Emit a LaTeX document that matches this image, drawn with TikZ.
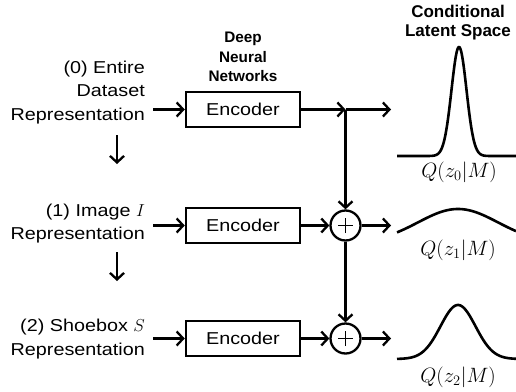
\documentclass[tikz,border=0pt]{standalone}
\usepackage{fontspec}
\setmainfont{Liberation Sans}
\newfontfamily\labfont[FakeStretch=1.15]{Liberation Sans}
\usetikzlibrary{arrows.meta}
\begin{document}
\begin{tikzpicture}[x=1pt,y=-1pt,
  line width=2.3pt,
  >={Straight Barb[length=6.5pt,width=14pt]},
  lab/.style={anchor=east,align=right,inner sep=0pt,font=\labfont\fontsize{17.2}{23.3}\selectfont},
  encbox/.style={draw,line width=2.5pt,minimum width=114pt,minimum height=35pt,inner sep=0pt,font=\labfont\fontsize{17.2}{21}\selectfont},
  plus/.style={draw,circle,line width=2.3pt,minimum size=30pt,inner sep=0pt,
    path picture={\draw[line width=1.6pt]
      ([xshift=-7.5pt]path picture bounding box.center) -- ([xshift=7.5pt]path picture bounding box.center)
      ([yshift=-7.5pt]path picture bounding box.center) -- ([yshift=7.5pt]path picture bounding box.center);}},
  head/.style={align=center,inner sep=0pt,font=\bfseries\fontsize{15.3}{19.5}\selectfont},
  qlab/.style={inner sep=0pt,font=\fontsize{20}{24}\selectfont},
  curve/.style={line width=2.6pt,line join=round}
]
\useasboundingbox (0,0) rectangle (516,391);

% headings
\node[head] (dnn) at (243,57) {Deep\\Neural\\Networks};
\node[head,font=\bfseries\fontsize{17}{19.4}\selectfont] (cls) at (458,22.5) {Conditional\\Latent Space};

% input labels
\node[lab] (l0) at (146,92.5) {(0) Entire\\Dataset\\Representation};
\node[lab] (l1) at (146,223.3) {(1) Image $I$\\Representation};
\node[lab] (l2) at (146,339) {(2) Shoebox $S$\\Representation};

% encoders
\node[encbox] (e0) at (243,109.5) {Encoder};
\node[encbox] (e1) at (243,225.5) {Encoder};
\node[encbox] (e2) at (243,338.5) {Encoder};

% sums
\coordinate (j0) at (345.5,109.5);
\node[plus] (p1) at (345.5,225.5) {};
\node[plus] (p2) at (345.5,338.5) {};

% outputs
\coordinate (o0) at (391,109.5);
\coordinate (o1) at (391,225.5);
\coordinate (o2) at (391,338.5);

% down arrows
\coordinate (d0a) at (117,135);
\coordinate (d0b) at (117,164);
\coordinate (d1a) at (117,252);
\coordinate (d1b) at (117,281);
\draw[->] (d0a) -- (d0b);
\draw[->] (d1a) -- (d1b);

% input arrows
\draw[->,shorten <=7pt] (l0.east |- e0.west) -- (e0.west);
\draw[->,shorten <=7pt] (l1.east |- e1.west) -- (e1.west);
\draw[->,shorten <=7pt] (l2.east |- e2.west) -- (e2.west);

% encoder outputs
\draw[->] (e0.east) -- (j0);
\draw[->] (j0) -- (o0);
\draw[->] (j0) -- (p1.north);
\draw[->] (e1.east) -- (p1.west);
\draw[->] (p1.east) -- (o1);
\draw[->] (p1.south) -- (p2.north);
\draw[->] (e2.east) -- (p2.west);
\draw[->] (p2.east) -- (o2);

% distributions
\draw[curve] plot[domain=397:516,samples=200] (\x,{156-109*exp(-((\x-459)^2)/(2*7.5*7.5))});
\draw[curve] plot[domain=397:516,samples=120] (\x,{243-34*exp(-((\x-458)^2)/(2*40*40))});
\draw[curve] plot[domain=397:516,samples=150] (\x,{359-54*exp(-((\x-458)^2)/(2*17.5*17.5))});

\node[qlab] (q0) at (459,172) {$Q(z_0|M)$};
\node[qlab] (q1) at (458,250) {$Q(z_1|M)$};
\node[qlab] (q2) at (458,377) {$Q(z_2|M)$};
\end{tikzpicture}
\end{document}
